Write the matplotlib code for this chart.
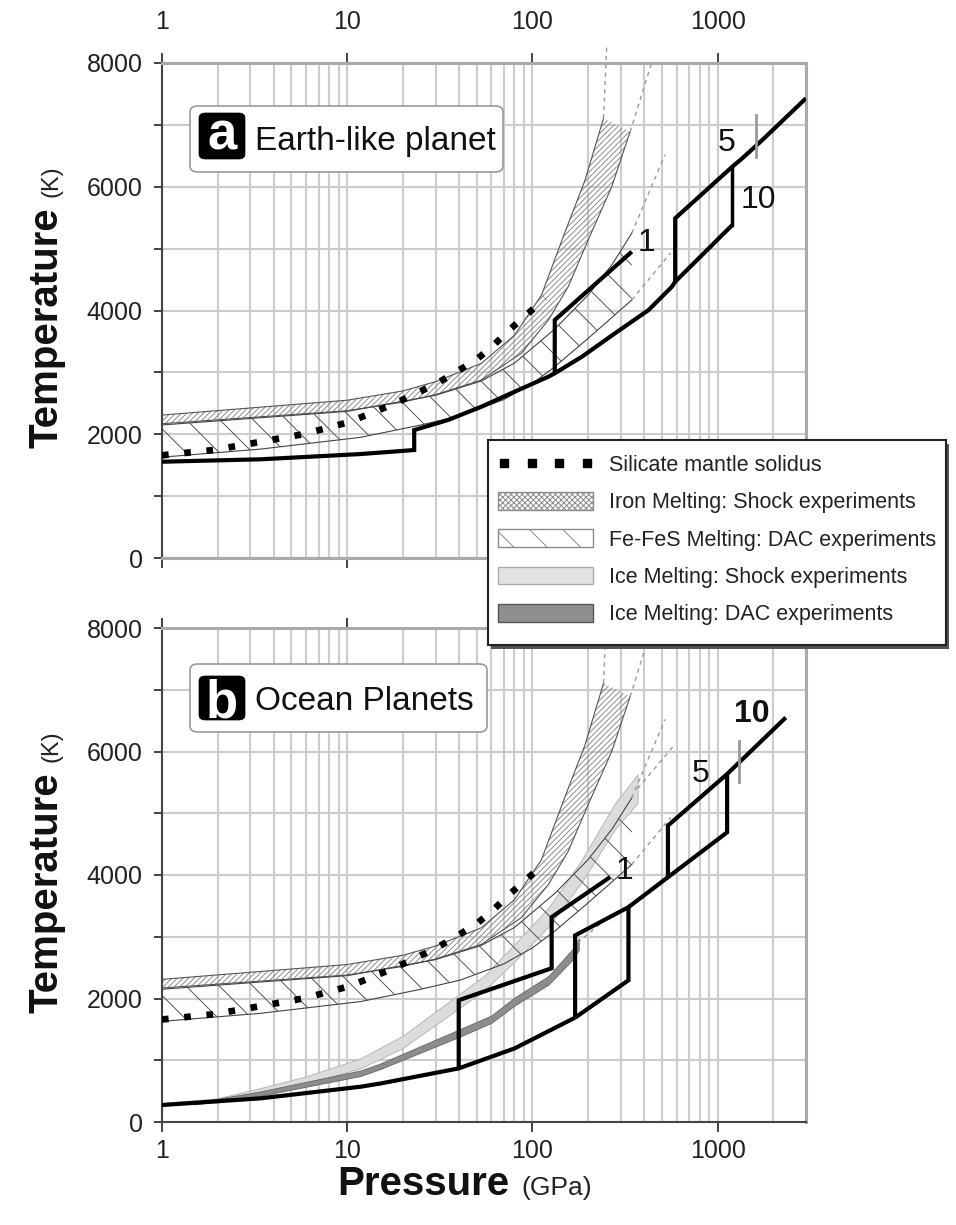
import numpy as np
import matplotlib
matplotlib.use("Agg")
import matplotlib.pyplot as plt
from matplotlib import font_manager
from matplotlib.patches import Patch, FancyBboxPatch, Rectangle
from matplotlib.lines import Line2D
from matplotlib.ticker import FixedLocator, FixedFormatter, NullFormatter

# ======================= DATA =======================
X_TICKS = [1, 10, 100, 1000]
X_TICK_LABELS = ["1", "10", "100", "1000"]
X_MINOR = [m * 10.0 ** e for e in range(0, 4) for m in range(2, 10)]
Y_TICKS = [0, 1000, 2000, 3000, 4000, 5000, 6000, 7000, 8000]
Y_TICK_LABELS = ["0", "", "2000", "", "4000", "", "6000", "", "8000"]

# Silicate mantle solidus
SOLIDUS_P = [1, 1.9, 3.3, 5.9, 10.3, 17.7, 30, 39, 50, 61, 75, 95, 117]
SOLIDUS_T = [1660, 1745, 1870, 2005, 2200, 2485, 2810, 3010, 3210, 3425, 3685, 3955, 4200]

# Iron melting, shock experiments (band)
FE_SHOCK_UP_P = [1, 10, 20, 30, 53, 80, 112, 147, 192, 242]
FE_SHOCK_UP_T = [2310, 2550, 2700, 2850, 3146, 3600, 4250, 5200, 6100, 7105]
FE_SHOCK_LO_P = [1, 10, 20, 30, 53, 87, 122, 156, 200, 268, 337]
FE_SHOCK_LO_T = [2170, 2380, 2520, 2640, 2876, 3308, 3846, 4384, 5139, 6000, 6890]

# Fe-FeS melting, DAC experiments (band)
FEFES_UP_P = [1, 10, 30, 53, 80, 132, 200, 270, 344]
FEFES_UP_T = [2150, 2370, 2630, 2860, 3150, 3700, 4250, 4750, 5250]
FEFES_LO_P = [1, 3.4, 11.8, 25, 41, 70, 100, 132, 200, 344]
FEFES_LO_T = [1630, 1760, 1950, 2150, 2300, 2560, 2820, 3091, 3550, 4170]

# Extrapolations (dashed)
FE_SHOCK_UP_EXT_P = [242, 252]
FE_SHOCK_UP_EXT_T = [7105, 8290]
FE_SHOCK_LO_EXT_P = [337, 440]
FE_SHOCK_LO_EXT_T = [6890, 8000]
FEFES_UP_EXT_P = [344, 520]
FEFES_UP_EXT_T = [5250, 6520]
FEFES_LO_EXT_P = [344, 557]
FEFES_LO_EXT_T = [4170, 4930]

# Ice melting bands (ocean planets)
ICE_SHOCK_P = [1, 2, 3.4, 6, 11.8, 20, 34, 55, 80, 122, 184, 279, 370]
ICE_SHOCK_LO_T = [272, 315, 450, 620, 870, 1200, 1690, 2130, 2600, 3160, 3880, 4740, 5170]
ICE_SHOCK_HI_T = [308, 385, 550, 740, 1030, 1400, 1910, 2370, 2880, 3470, 4240, 5160, 5630]
ICE_DAC_P = [1.5, 3.4, 11.8, 15, 40, 60, 80, 122, 163, 178]
ICE_DAC_LO_T = [285, 425, 745, 855, 1375, 1605, 1885, 2225, 2615, 2785]
ICE_DAC_HI_T = [315, 495, 835, 945, 1495, 1725, 2015, 2365, 2785, 2975]
ICE_SHOCK_EXT_P = [370, 590]
ICE_SHOCK_EXT_T = [5400, 6120]
ICE_DAC_EXT_P = [175, 260]
ICE_DAC_EXT_T = [2900, 3330]

# Earth-like planet temperature profiles (1, 5, 10 Earth masses)
EARTH_MANTLE_P = [1, 3.4, 11.8, 23, 23, 35, 53, 80, 122, 132, 185, 279, 424, 566, 590, 1199]
EARTH_MANTLE_T = [1556, 1595, 1680, 1745, 2068, 2230, 2445, 2687, 2930, 2985, 3253, 3631, 4008, 4384, 4465, 5381]
EARTH_CORE1_P = [132, 132, 344]
EARTH_CORE1_T = [2985, 3846, 4950]
EARTH_CORE5_P = [590, 590, 1199, 1358, 1742, 2931, 3000]
EARTH_CORE5_T = [4465, 5490, 6323, 6459, 6755, 7401, 7430]
EARTH_CMB10_P = [1199, 1199]
EARTH_CMB10_T = [5381, 6323]
EARTH_MARK_P = [1617, 1617]
EARTH_MARK_T = [6485, 7160]
EARTH_LABELS = ["1", "5", "10"]
EARTH_LABEL_P = [415, 1125, 1659]
EARTH_LABEL_T = [5090, 6706, 5785]

# Ocean planet temperature profiles
OCEAN_ICE_P = [1, 3.4, 11.8, 15.2, 40, 80, 170]
OCEAN_ICE_T = [275, 383, 571, 625, 868, 1191, 1690]
OCEAN_1_P = [40, 40, 127, 127, 262]
OCEAN_1_T = [868, 1972, 2490, 3318, 3964]
OCEAN_5_P = [170, 170, 330, 330, 170]
OCEAN_5_T = [1690, 3022, 3479, 2295, 1690]
OCEAN_10_P = [330, 539, 1125, 1125, 2333]
OCEAN_10_T = [3479, 3964, 4691, 5635, 6550]
OCEAN_10_CMB_P = [539, 539, 1125]
OCEAN_10_CMB_T = [3964, 4800, 5635]
OCEAN_MARK_P = [1303, 1303]
OCEAN_MARK_T = [5499, 6173]
OCEAN_LABELS = ["1", "5", "10"]
OCEAN_LABEL_P = [316, 807, 1538]
OCEAN_LABEL_T = [4072, 5635, 6609]

LEGEND_LABELS = ["Silicate mantle solidus",
                 "Iron Melting: Shock experiments",
                 "Fe-FeS Melting: DAC experiments",
                 "Ice Melting: Shock experiments",
                 "Ice Melting: DAC experiments"]

# ======================= STYLE =======================
names = {f.name for f in font_manager.fontManager.ttflist}
BASE = "Liberation Sans" if "Liberation Sans" in names else "DejaVu Sans"
plt.rcParams["font.family"] = [BASE, "DejaVu Sans"]
if "Liberation Sans Narrow" in names:
    LBL_FAMILY, LBL_SIZE = "Liberation Sans Narrow", 34
else:
    LBL_FAMILY, LBL_SIZE = BASE, 29
plt.rcParams["hatch.linewidth"] = 0.7

W, H = 956, 1225


def fx(px):
    return px / W


def fy(py):
    return 1 - py / H


fig = plt.figure(figsize=(W / 100, H / 100), dpi=100)
fig.patch.set_facecolor("white")
ax1 = fig.add_axes([fx(162), fy(558), (806 - 162) / W, (558 - 63) / H])
ax2 = fig.add_axes([fx(162), fy(1122), (806 - 162) / W, (1122 - 628) / H])

GRID = "#cccccc"


def style_axes(ax, top_labels):
    ax.set_xscale("log")
    ax.set_xlim(1, 3000)
    ax.set_ylim(0, 8000)
    ax.xaxis.set_major_locator(FixedLocator(X_TICKS))
    ax.xaxis.set_major_formatter(FixedFormatter(X_TICK_LABELS))
    ax.xaxis.set_minor_locator(FixedLocator(X_MINOR))
    ax.xaxis.set_minor_formatter(NullFormatter())
    ax.yaxis.set_major_locator(FixedLocator(Y_TICKS))
    ax.yaxis.set_major_formatter(FixedFormatter(Y_TICK_LABELS))
    ax.set_axisbelow(True)
    ax.grid(True, which="both", axis="x", color=GRID, lw=1.5)
    ax.grid(True, which="major", axis="y", color=GRID, lw=1.5)
    ax.tick_params(axis="x", which="major", top=True, bottom=True, direction="out",
                   length=7, width=1.3, color="#333333", labelsize=18, labelcolor="#222222",
                   labeltop=top_labels, labelbottom=not top_labels,
                   pad=14 if top_labels else 5)
    ax.tick_params(axis="x", which="minor", length=0, top=False, bottom=False)
    ax.tick_params(axis="y", which="major", direction="out", length=6, width=1.3,
                   color="#333333", labelsize=18, labelcolor="#222222", pad=8)
    for s in ["top", "right"]:
        ax.spines[s].set_color("#aaaaaa")
        ax.spines[s].set_linewidth(2.2)
    ax.spines["left"].set_color("#444444")
    ax.spines["left"].set_linewidth(1.5)
    if top_labels:
        ax.spines["bottom"].set_color("#aaaaaa")
        ax.spines["bottom"].set_linewidth(2.2)
    else:
        ax.spines["bottom"].set_color("#444444")
        ax.spines["bottom"].set_linewidth(1.5)


DASH = dict(color="#9a9a9a", lw=1.0, ls=(0, (3, 3)), zorder=2.5)
THICK = dict(color="black", lw=3.0, solid_joinstyle="miter", solid_capstyle="butt", zorder=4)


def draw_common(ax, top_panel):
    # Fe shock band
    ax.fill(FE_SHOCK_UP_P + FE_SHOCK_LO_P[::-1], FE_SHOCK_UP_T + FE_SHOCK_LO_T[::-1],
            facecolor="none", edgecolor="#8c8c8c", hatch="//////", lw=0, zorder=2)
    ax.plot(FE_SHOCK_UP_P, FE_SHOCK_UP_T, color="#555555", lw=0.8, zorder=2.2)
    ax.plot(FE_SHOCK_LO_P, FE_SHOCK_LO_T, color="#555555", lw=0.8, zorder=2.2)
    # Fe-FeS band
    ax.fill(FEFES_UP_P + FEFES_LO_P[::-1], FEFES_UP_T + FEFES_LO_T[::-1],
            facecolor="none", edgecolor="#555555", hatch="\\", lw=0, zorder=2.1)
    ax.plot(FEFES_UP_P, FEFES_UP_T, color="#444444", lw=0.8, zorder=2.2)
    ax.plot(FEFES_LO_P, FEFES_LO_T, color="#444444", lw=0.8, zorder=2.2)
    # dashed extrapolations
    ax.plot(FE_SHOCK_UP_EXT_P, FE_SHOCK_UP_EXT_T, clip_on=not top_panel, **DASH)
    ax.plot(FE_SHOCK_LO_EXT_P, FE_SHOCK_LO_EXT_T, **DASH)
    ax.plot(FEFES_UP_EXT_P, FEFES_UP_EXT_T, **DASH)
    ax.plot(FEFES_LO_EXT_P, FEFES_LO_EXT_T, **DASH)
    # silicate solidus (dots)
    ax.plot(SOLIDUS_P, SOLIDUS_T, color="black", lw=4.8, ls=(0, (1.0, 2.35)),
            dash_capstyle="butt", zorder=5)


def panel_label(ax, letter, text, outer, inner, letter_base, text_base):
    x0, y0, w, h = outer
    ax.add_patch(FancyBboxPatch((x0, y0), w, h, boxstyle="round,pad=0,rounding_size=0.012",
                                transform=ax.transAxes, fc="white", ec="#9a9a9a", lw=1.2,
                                zorder=7))
    bx, by, bw, bh = inner
    ax.add_patch(FancyBboxPatch((bx, by), bw, bh, boxstyle="round,pad=0,rounding_size=0.01",
                                transform=ax.transAxes, fc="black", ec="black", lw=0.5,
                                zorder=8))
    ax.text(bx + bw / 2, letter_base, letter, transform=ax.transAxes, ha="center",
            va="baseline", color="white", fontsize=38, fontweight="bold", zorder=9)
    ax.text((255 - 162) / 644, text_base, text, transform=ax.transAxes, ha="left",
            va="baseline", color="#111111", fontsize=24, zorder=9)


style_axes(ax1, True)
style_axes(ax2, False)

# ---------- panel a: Earth-like planet ----------
draw_common(ax1, True)
ax1.plot(EARTH_MANTLE_P, EARTH_MANTLE_T, **THICK)
ax1.plot(EARTH_CORE1_P, EARTH_CORE1_T, **THICK)
ax1.plot(EARTH_CORE5_P, EARTH_CORE5_T, **THICK)
ax1.plot(EARTH_CMB10_P, EARTH_CMB10_T, color="black", lw=2.5, zorder=4)
ax1.plot(EARTH_MARK_P, EARTH_MARK_T, color="#999999", lw=2.0, zorder=4.5)
for s, p, t in zip(EARTH_LABELS, EARTH_LABEL_P, EARTH_LABEL_T):
    ax1.text(p, t, s, ha="center", va="center", fontsize=23, color="#111111", zorder=6)
panel_label(ax1, "a", "Earth-like planet",
            ((190 - 162) / 644, (558 - 172) / 495, 313 / 644, 66 / 495),
            ((199 - 162) / 644, (558 - 159) / 495, 46 / 644, 46 / 495),
            (558 - 150) / 495, (558 - 150) / 495)

# ---------- panel b: Ocean planets ----------
ax2.fill_between(ICE_SHOCK_P, ICE_SHOCK_LO_T, ICE_SHOCK_HI_T, facecolor="#dcdcdc",
                 edgecolor="#b0b0b0", lw=0.6, zorder=1.5)
ax2.fill_between(ICE_DAC_P, ICE_DAC_LO_T, ICE_DAC_HI_T, facecolor="#8c8c8c",
                 edgecolor="#666666", lw=0.6, zorder=1.6)
ax2.plot(ICE_SHOCK_EXT_P, ICE_SHOCK_EXT_T, **DASH)
ax2.plot(ICE_DAC_EXT_P, ICE_DAC_EXT_T, **DASH)
draw_common(ax2, False)
ax2.plot(OCEAN_ICE_P, OCEAN_ICE_T, **THICK)
ax2.plot(OCEAN_1_P, OCEAN_1_T, **THICK)
ax2.plot(OCEAN_5_P, OCEAN_5_T, **THICK)
ax2.plot(OCEAN_10_P, OCEAN_10_T, **THICK)
ax2.plot(OCEAN_10_CMB_P, OCEAN_10_CMB_T, **THICK)
ax2.plot(OCEAN_MARK_P, OCEAN_MARK_T, color="#999999", lw=2.0, zorder=4.5)
for s, p, t in zip(OCEAN_LABELS, OCEAN_LABEL_P, OCEAN_LABEL_T):
    ax2.text(p, t, s, ha="center", va="center", fontsize=23, color="#111111", zorder=6,
             fontweight="bold" if s == "10" else "normal")
panel_label(ax2, "b", "Ocean Planets",
            ((190 - 162) / 644, (1122 - 732) / 494, 297 / 644, 68 / 494),
            ((199 - 162) / 644, (1122 - 720) / 494, 46 / 644, 44 / 494),
            (1122 - 717) / 494, (1122 - 710) / 494)

# ---------- legend (custom frame with shadow) ----------
fig.add_artist(Rectangle((fx(491), fy(649)), (946 - 488) / W, (645 - 440) / H,
                         transform=fig.transFigure, fc="#555555", ec="none", zorder=4.3))
fig.add_artist(Rectangle((fx(488), fy(645)), (946 - 488) / W, (645 - 440) / H,
                         transform=fig.transFigure, fc="white", ec="#222222", lw=1.5,
                         zorder=4.4))
handles = [
    Line2D([], [], ls="none", marker="s", ms=5.5, color="black"),
    Patch(facecolor="white", edgecolor="#8a8a8a", hatch="xxxxxx", lw=1.0),
    Patch(facecolor="white", edgecolor="#8a8a8a", hatch="\\", lw=1.0),
    Patch(facecolor="#e2e2e2", edgecolor="#aaaaaa", lw=1.0),
    Patch(facecolor="#8f8f8f", edgecolor="#555555", lw=1.0),
]
leg = fig.legend(handles, LEGEND_LABELS, loc="upper left",
                 bbox_to_anchor=(fx(488), fy(445)), bbox_transform=fig.transFigure,
                 borderaxespad=0, frameon=False, fontsize=15.5, numpoints=4,
                 handlelength=4.45, handleheight=0.9, handletextpad=0.7,
                 labelspacing=0.74, borderpad=0.45)
leg.set_zorder(5)
for t in leg.get_texts():
    t.set_color("#222222")

# ---------- axis titles ----------
fig.canvas.draw()
renderer = fig.canvas.get_renderer()
for y_start in (448, 1013):
    t = fig.text(fx(57), fy(y_start), "Temperature", rotation=90, rotation_mode="anchor",
                 ha="left", va="baseline", fontsize=LBL_SIZE, fontweight="bold",
                 family=LBL_FAMILY, color="#111111")
    bb = t.get_window_extent(renderer)
    fig.text(fx(57), (bb.y1 + 10) / H, "(K)", rotation=90, rotation_mode="anchor",
             ha="left", va="baseline", fontsize=17, color="#222222")

t = fig.text(fx(337), fy(1195), "Pressure", ha="left", va="baseline",
             fontsize=LBL_SIZE, fontweight="bold", family=LBL_FAMILY, color="#111111")
bb = t.get_window_extent(renderer)
fig.text((bb.x1 + 12) / W, fy(1195), "(GPa)", ha="left", va="baseline",
         fontsize=19, color="#222222")

fig.savefig("out.png", dpi=100)
